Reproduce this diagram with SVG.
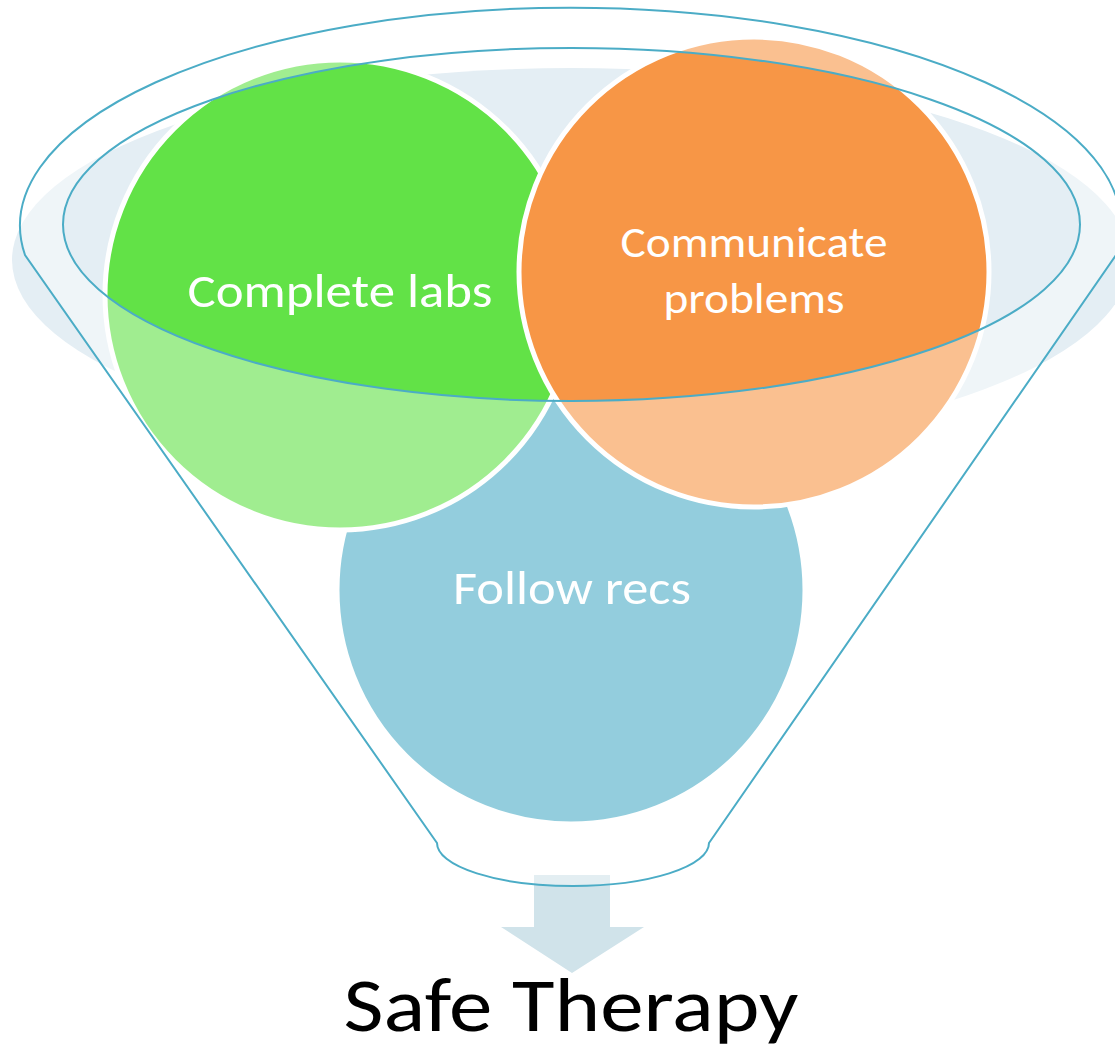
<svg xmlns="http://www.w3.org/2000/svg" width="1115" height="1055" viewBox="0 0 1115 1055">
<style>
.lbl{font-family:Calibri,Carlito,Lato,"Noto Sans",sans-serif;fill:#ffffff;text-anchor:middle}
.circ{stroke:#ffffff;stroke-width:5}
.fline{fill:none;stroke:#4BACC6;stroke-width:2}
</style>
<rect width="1115" height="1055" fill="#ffffff"/>
<ellipse id="funnel-shadow" cx="571" cy="260" rx="559" ry="192" fill="#E4EEF4"/>
<g id="connectors">
<path id="arrow" d="M534,875 H610 V927 H644 L572,973 L501,927 H534 Z" fill="#D0E3EA"/>
</g>
<g id="node-follow-recs">
<circle class="circ" cx="571" cy="590" r="234" fill="#4BACC6"/>
<text class="lbl" x="572" y="604" font-size="48" textLength="238" lengthAdjust="spacingAndGlyphs">Follow recs</text>
</g>
<g id="node-complete-labs">
<circle class="circ" cx="340" cy="295" r="235" fill="#62E247"/>
<text class="lbl" x="340" y="307" font-size="48" textLength="305" lengthAdjust="spacingAndGlyphs">Complete labs</text>
</g>
<g id="node-communicate-problems">
<circle class="circ" cx="754" cy="272" r="235" fill="#F79646"/>
<text class="lbl" x="754" y="257" font-size="42.5" textLength="267" lengthAdjust="spacingAndGlyphs">Communicate</text>
<text class="lbl" x="754" y="313" font-size="42.5" textLength="181" lengthAdjust="spacingAndGlyphs">problems</text>
</g>
<g id="funnel">
<path d="M25,255 A550.5,218 0 1 1 1116,255 L709,843 A136,43 0 0 1 437,843 Z M63,224.5 A508.5,176.5 0 1 0 1080,224.5 A508.5,176.5 0 1 0 63,224.5 Z" fill="#ffffff" fill-opacity="0.4" fill-rule="evenodd"/>
<path class="fline" d="M25,255 A550.5,218 0 1 1 1116,255 L709,843 A136,43 0 0 1 437,843 Z"/>
<ellipse class="fline" cx="571.5" cy="224.5" rx="508.5" ry="176.5"/>
</g>
<g id="node-safe-therapy">
<text x="571" y="1031" font-family="Calibri,Carlito,Lato,'Noto Sans',sans-serif" font-size="77" fill="#000000" text-anchor="middle" textLength="455" lengthAdjust="spacingAndGlyphs">Safe Therapy</text>
</g>
</svg>
